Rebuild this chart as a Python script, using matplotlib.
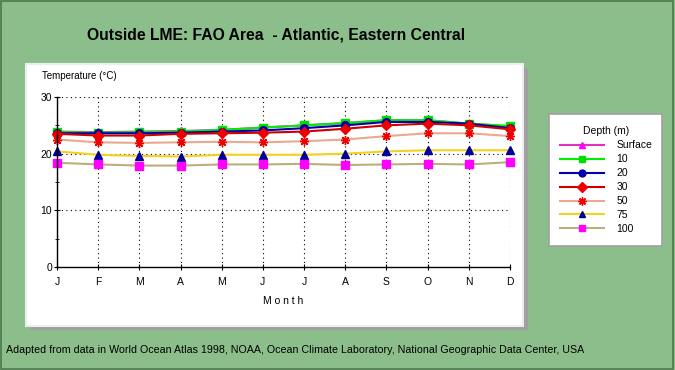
import matplotlib
matplotlib.use('Agg')
from matplotlib import pyplot as plt
from matplotlib.patches import Rectangle
from matplotlib.ticker import MultipleLocator

plt.rcParams['font.family'] = ['Liberation Sans', 'DejaVu Sans']

# Data
months = ['J', 'F', 'M', 'A', 'M', 'J', 'J', 'A', 'S', 'O', 'N', 'D']
depth_surface = [23.9, 23.8, 23.9, 24.0, 24.2, 24.6, 25.0, 25.4, 25.9, 25.9, 25.3, 24.8]
depth_10 = [23.8, 23.7, 23.8, 23.9, 24.2, 24.6, 25.0, 25.4, 25.9, 25.9, 25.3, 24.9]
depth_20 = [23.6, 23.6, 23.6, 23.7, 23.9, 24.1, 24.5, 25.0, 25.6, 25.6, 25.3, 24.5]
depth_30 = [23.5, 23.2, 23.2, 23.5, 23.6, 23.7, 23.9, 24.4, 25.0, 25.3, 25.0, 24.3]
depth_50 = [22.5, 22.0, 21.9, 22.0, 22.1, 22.0, 22.2, 22.5, 23.1, 23.6, 23.6, 23.1]
depth_75 = [20.4, 19.8, 19.6, 19.5, 19.8, 19.8, 19.8, 20.0, 20.4, 20.6, 20.6, 20.6]
depth_100 = [18.4, 18.1, 17.9, 17.9, 18.1, 18.1, 18.2, 18.0, 18.1, 18.2, 18.1, 18.5]

series = [
    ('Surface', depth_surface, '#DD33BB', '^', '#FF00FF'),
    ('10', depth_10, '#00EE00', 's', '#00DD00'),
    ('20', depth_20, '#0000AA', 'o', '#0000AA'),
    ('30', depth_30, '#CC0000', 'D', '#EE0000'),
    ('50', depth_50, '#EBA88E', (8, 2, 0), '#EE0000'),
    ('75', depth_75, '#F2D21E', '^', '#000099'),
    ('100', depth_100, '#BBAE7C', 's', '#FF00FF'),
]

bg = '#8BBE8B'
fig = plt.figure(figsize=(6.75, 3.7), dpi=100, facecolor=bg)
W, H = 675.0, 370.0

def fx(px):
    return px / W

def fy(py):
    return 1 - py / H

# outer border
fig.patches.append(Rectangle((0.002, 0.003), 0.995, 0.993, transform=fig.transFigure,
                             fill=False, edgecolor='#4E7A4E', lw=1.2, zorder=-10))

# white chart panel with shadow
fig.patches.append(Rectangle((fx(30), fy(330)), fx(528) - fx(30), fy(68) - fy(330),
                             transform=fig.transFigure, facecolor='#A0A0A0', edgecolor='none',
                             zorder=-10))
fig.patches.append(Rectangle((fx(26), fy(326)), fx(523) - fx(26), fy(64) - fy(326),
                             transform=fig.transFigure, facecolor='white', edgecolor='#EEEEEE',
                             lw=1.5, zorder=-9))

fig.text(fx(276), fy(35), 'Outside LME: FAO Area  - Atlantic, Eastern Central',
         ha='center', va='center', fontsize=11.3, fontweight='bold')

ax = fig.add_axes([fx(57), fy(267), fx(510) - fx(57), fy(97) - fy(267)])
ax.set_facecolor('white')
ax.patch.set_alpha(0)
x = list(range(len(months)))
for name, vals, lc, mk, mc in series:
    ax.plot(x, vals, color=lc, lw=1.5, marker=mk, markersize=5.5 if mk != (8, 2, 0) else 6.5,
            markerfacecolor=mc, markeredgecolor=mc, markeredgewidth=1.0, label=name,
            clip_on=False)

ax.set_xlim(0, 11)
ax.set_ylim(0, 30)
ax.set_xticks(x)
ax.set_xticklabels(months, fontsize=7.5)
ax.set_yticks([0, 10, 20, 30])
ax.yaxis.set_minor_locator(MultipleLocator(5))
ax.tick_params(axis='both', direction='inout', length=5, width=0.8, labelsize=7.5)
ax.tick_params(axis='y', which='minor', direction='inout', length=3)
ax.tick_params(axis='x', pad=5)
ax.tick_params(axis='y', pad=1)
ax.grid(True, color='black', linestyle=(0, (1, 3)), lw=0.8)
for s in ['top', 'right']:
    ax.spines[s].set_visible(False)
for s in ['left', 'bottom']:
    ax.spines[s].set_linewidth(1.0)
ax.set_axisbelow(True)

fig.text(fx(42), fy(76), 'Temperature (\u00b0C)', fontsize=7, va='center', ha='left')
fig.text(fx(283), fy(301), 'M o n t h', fontsize=7.5, va='center', ha='center')

fig.text(fx(6), fy(350), 'Adapted from data in World Ocean Atlas 1998, NOAA, Ocean Climate Laboratory, '
         'National Geographic Data Center, USA', fontsize=7.7, va='center', ha='left')

# legend box
fig.patches.append(Rectangle((fx(549), fy(246)), fx(662) - fx(549), fy(114) - fy(246),
                             transform=fig.transFigure, facecolor='white', edgecolor='#A0A0A0',
                             lw=1.2, zorder=-8))
handles, labels = ax.get_legend_handles_labels()
leg = fig.legend(handles, labels, title='Depth (m)', loc='upper left',
                 bbox_to_anchor=(fx(551), fy(117)), frameon=False, fontsize=7.5,
                 title_fontsize=7.5, handlelength=4.2, handletextpad=1.2,
                 labelspacing=0.38, markerscale=0.9)

fig.savefig('out.png', dpi=100, facecolor=bg)
